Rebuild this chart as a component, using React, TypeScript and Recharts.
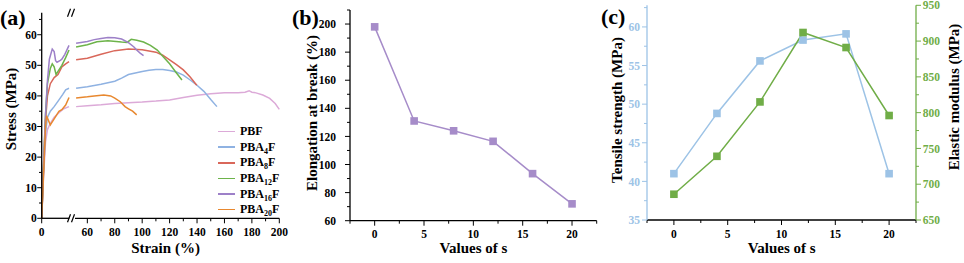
import { Legend, Line, LineChart, XAxis, YAxis } from 'recharts';

const FONT = "'Liberation Serif', 'DejaVu Serif', 'Times New Roman', serif";

// (a) stress-strain curves, [strain %, stress MPa], split at the axis break
const pbfLow = [[0, 0], [2, 14], [4, 25], [6, 29], [9, 31], [13, 33], [18, 34.5], [23, 35.8], [28.5, 36.5]];
const pbfHigh = [[51.8, 36.5], [60, 36.8], [70, 37.1], [80, 37.5], [90, 37.8], [100, 38], [110, 38.3], [120, 38.7], [130, 39.5], [140, 40.2], [150, 40.7], [160, 41], [170, 41], [175, 41.2], [178, 41.7], [180, 41.2], [183, 41], [188, 40.3], [193, 39.2], [197, 37.5], [200, 35.6]];
const pba4Low = [[0, 0], [2, 16], [4, 28], [6, 33], [9, 35], [13, 36.5], [18, 38.7], [22, 40.5], [25, 42], [28.5, 42.5]];
const pba4High = [[51.8, 42.5], [60, 43], [70, 43.8], [80, 44.8], [85, 45.8], [90, 47], [100, 48], [105, 48.4], [110, 48.6], [115, 48.6], [120, 48.3], [125, 47.8], [130, 46.8], [135, 45.2], [140, 43.5], [145, 41.5], [150, 38.8], [154.5, 36.5]];
const pba8Low = [[0, 0], [2, 17], [4, 32], [6, 40], [9, 44], [13, 46], [17, 47], [21, 49.5], [25, 50.5], [28.5, 51.2]];
const pba8High = [[51.8, 51.8], [60, 52.3], [70, 53.6], [80, 54.8], [90, 55.3], [100, 55.1], [110, 54.3], [115, 53.3], [120, 51.8], [125, 50.2], [130, 48.5], [135, 46.2], [139.8, 43.5]];
const pba12Low = [[0, 0], [2, 18], [4, 34], [6, 44], [9, 49], [11, 50.5], [13, 49.5], [15, 47], [17, 48], [21, 50], [25, 52.5], [28.5, 55]];
const pba12High = [[51.8, 56], [60, 56.7], [67, 57.7], [75, 58], [85, 57.6], [89, 57.5], [92, 58.5], [96, 58.2], [101, 57.6], [106, 56.5], [111, 55], [115, 53], [120, 50.5], [125, 47.5], [129, 45.2]];
const pba16Low = [[0, 0], [2, 18], [4, 34], [6, 45], [8, 52], [11, 55.3], [13, 54.5], [14.5, 51.5], [16, 51], [19, 51.5], [21, 52], [24, 53.5], [28.5, 56.5]];
const pba16High = [[51.8, 57.2], [60, 57.8], [65, 58.4], [70, 58.8], [75, 59.1], [80, 59], [85, 58.6], [90, 57.4], [94, 56], [96, 55], [98.5, 54], [101, 53.2]];
const pba20Low = [[0, 0], [2, 15], [4, 30], [5, 33.5], [7, 32], [9, 30.5], [11, 31.5], [14, 33], [18, 35], [21, 35.5], [25, 37], [28.5, 39.5]];
const pba20High = [[51.8, 39.3], [60, 39.7], [65, 40], [72, 40.3], [77, 40], [80, 39.3], [84, 38.1], [87.5, 36.5], [90, 35.8], [93, 35], [96, 33.8]];

const stressTicks = [0, 5, 10, 15, 20, 25, 30, 35, 40, 45, 50, 55, 60, 65];
const strainTicksHigh = [60, 70, 80, 90, 100, 110, 120, 130, 140, 150, 160, 170, 180, 190, 200];

// (b) and (c) vs s
const sValues = [0, 4, 8, 12, 16, 20];
const elongation = [198, 131, 124, 116.5, 93.5, 72];
const tensile = [41, 48.8, 55.6, 58.3, 59.1, 41];
const modulus = [686, 739, 815, 912, 891, 796];

const sTicks = [-2.5, 0, 2.5, 5, 7.5, 10, 12.5, 15, 17.5, 20, 22.5];
const elongTicks = [60, 70, 80, 90, 100, 110, 120, 130, 140, 150, 160, 170, 180, 190, 200, 210];
const tensileTicks = [35, 37.5, 40, 42.5, 45, 47.5, 50, 52.5, 55, 57.5, 60, 62.5];
const modulusTicks = [650, 675, 700, 725, 750, 775, 800, 825, 850, 875, 900, 925, 950];

const toXY = (arr: number[][]) => arr.map(([x, y]) => ({ x, y }));

const stressSeries = [
  { key: 'pbf', sub: '', color: '#dcaad8', low: pbfLow, high: pbfHigh },
  { key: 'pba4', sub: '4', color: '#8fb2e2', low: pba4Low, high: pba4High },
  { key: 'pba8', sub: '8', color: '#d9675a', low: pba8Low, high: pba8High },
  { key: 'pba12', sub: '12', color: '#6db34a', low: pba12Low, high: pba12High },
  { key: 'pba16', sub: '16', color: '#9d80c8', low: pba16Low, high: pba16High },
  { key: 'pba20', sub: '20', color: '#e8882f', low: pba20Low, high: pba20High },
];

const sData = sValues.map((s, i) => ({ s, elong: elongation[i], ts: tensile[i], em: modulus[i] }));

const PURPLE = '#a68cc9';
const BLUE = '#9dc3e6';
const GREEN = '#70ad47';

type TickOpts = {
  side: 'left' | 'right' | 'bottom';
  at: number;
  major: (v: number) => boolean;
  color?: string;
  gap?: number;
  len?: number;
};

const makeTick = ({ side, at, major, color = '#000', gap = 2, len = 5 }: TickOpts) => (p: any) => {
  const v = p.payload.value;
  const big = major(v);
  const l = big ? len : len * 0.6;
  if (side === 'bottom') {
    return (
      <g>
        <line x1={p.x} x2={p.x} y1={at} y2={at + l} stroke={color} strokeWidth={1} />
        {big && (
          <text x={p.x} y={at + 17.5} textAnchor="middle" fill={color} fontFamily={FONT} fontWeight="bold" fontSize={11.5}>
            {v}
          </text>
        )}
      </g>
    );
  }
  const dir = side === 'left' ? -1 : 1;
  return (
    <g>
      <line x1={at} x2={at + dir * l} y1={p.y} y2={p.y} stroke={color} strokeWidth={1} />
      {big && (
        <text x={at + dir * (len + gap)} y={p.y} dy="0.36em" textAnchor={side === 'left' ? 'end' : 'start'} fill={color} fontFamily={FONT} fontWeight="bold" fontSize={11.5}>
          {v}
        </text>
      )}
    </g>
  );
};

const square = (color: string) => (p: any) =>
  p.cx == null ? <g /> : <rect x={p.cx - 3.8} y={p.cy - 3.8} width={7.6} height={7.6} fill={color} />;

const axisLine = (stroke = '#000') => ({ stroke, strokeWidth: 1.3 });

const StressLegend = () => (
  <div style={{ fontFamily: FONT, fontWeight: 'bold', fontSize: 12, color: '#000' }}>
    {stressSeries.map((s) => (
      <div key={s.key} style={{ display: 'flex', alignItems: 'center', height: 15.6 }}>
        <span style={{ display: 'inline-block', width: 17, height: 1.6, background: s.color, marginRight: 5 }} />
        <span style={{ whiteSpace: 'nowrap' }}>
          {s.sub ? (
            <>
              PBA<span style={{ fontSize: 8, position: 'relative', top: 3 }}>{s.sub}</span>F
            </>
          ) : (
            'PBF'
          )}
        </span>
      </div>
    ))}
  </div>
);

const Title = ({ x, y, rotate, size = 15, children }: { x: number; y: number; rotate?: boolean; size?: number; children: string }) => (
  <text
    transform={rotate ? `translate(${x},${y}) rotate(-90)` : undefined}
    x={rotate ? 0 : x}
    y={rotate ? 0 : y}
    dy={rotate ? '0.35em' : undefined}
    textAnchor={rotate ? 'middle' : x < 0 ? 'start' : 'middle'}
    fontFamily={FONT}
    fontWeight="bold"
    fontSize={size}
  >
    {children}
  </text>
);

const BreakMark = ({ y }: { y: number }) => (
  <g stroke="#000" strokeWidth={1.2}>
    <line x1={67.5} y1={y + 4} x2={70.5} y2={y - 4} />
    <line x1={71.5} y1={y + 4} x2={74.5} y2={y - 4} />
  </g>
);

export default function App() {
  const majorStress = (v: number) => v % 10 === 0;
  const majorS = (v: number) => v % 5 === 0;
  return (
    <div style={{ position: 'absolute', left: 0, top: 0, width: 964, height: 263, background: '#fff', overflow: 'hidden', fontFamily: FONT }}>
      {/* (a) left part of the broken strain axis */}
      <div style={{ position: 'absolute', left: 0, top: 0 }}>
        <LineChart width={70} height={263} margin={{ top: 12.7, right: 0.5, bottom: 14.7, left: 0 }}>
          <XAxis xAxisId="b" type="number" dataKey="x" domain={[0, 29]} ticks={[0]} interval={0} height={30} axisLine={axisLine()} tickLine={false} tick={makeTick({ side: 'bottom', at: 218.3, major: () => true })} />
          <XAxis xAxisId="t" orientation="top" type="number" domain={[0, 29]} height={0} tick={false} tickLine={false} axisLine={axisLine()} />
          <YAxis type="number" domain={[0, 67.2]} ticks={stressTicks} interval={0} width={41.7} axisLine={axisLine()} tickLine={false} tick={makeTick({ side: 'left', at: 41.7, major: majorStress, gap: 0.5, len: 4.5 })} />
          {stressSeries.map((s) => (
            <Line key={s.key} xAxisId="b" data={toXY(s.low)} dataKey="y" stroke={s.color} strokeWidth={1.5} dot={false} isAnimationActive={false} />
          ))}
        </LineChart>
      </div>
      {/* (a) right part */}
      <div style={{ position: 'absolute', left: 0, top: 0 }}>
        <LineChart width={290} height={263} margin={{ top: 12.7, right: 10.7, bottom: 14.7, left: 75 }}>
          <XAxis xAxisId="b" type="number" dataKey="x" domain={[51, 200]} ticks={strainTicksHigh} interval={0} height={30} axisLine={axisLine()} tickLine={false} tick={makeTick({ side: 'bottom', at: 218.3, major: (v) => v % 20 === 0 })} />
          <XAxis xAxisId="t" orientation="top" type="number" domain={[51, 200]} height={0} tick={false} tickLine={false} axisLine={axisLine()} />
          <YAxis yAxisId="l" hide type="number" domain={[0, 67.2]} />
          <YAxis yAxisId="r" orientation="right" type="number" domain={[0, 67.2]} width={0} tick={false} tickLine={false} axisLine={axisLine()} />
          {stressSeries.map((s) => (
            <Line key={s.key} xAxisId="b" yAxisId="l" data={toXY(s.high)} dataKey="y" stroke={s.color} strokeWidth={1.5} dot={false} isAnimationActive={false} />
          ))}
          <Legend layout="vertical" align="center" verticalAlign="middle" content={() => <StressLegend />} wrapperStyle={{ left: 218, top: 123.9, width: 70 }} />
        </LineChart>
      </div>

      {/* (b) elongation at break */}
      <div style={{ position: 'absolute', left: 290, top: 0 }}>
        <LineChart width={320} height={263} data={sData} margin={{ top: 10, right: 13.3, bottom: 12.3, left: 20 }}>
          <XAxis xAxisId="b" type="number" dataKey="s" domain={[-2.5, 22.5]} ticks={sTicks} interval={0} height={30} axisLine={axisLine()} tickLine={false} tick={makeTick({ side: 'bottom', at: 220.7, major: majorS })} />
          <XAxis xAxisId="t" orientation="top" type="number" dataKey="s" domain={[-2.5, 22.5]} height={0} tick={false} tickLine={false} axisLine={axisLine()} />
          <YAxis yAxisId="l" type="number" domain={[60, 210]} ticks={elongTicks} interval={0} width={40} axisLine={axisLine()} tickLine={false} tick={makeTick({ side: 'left', at: 60, major: (v) => v % 20 === 0, gap: 9 })} />
          <YAxis yAxisId="r" orientation="right" type="number" domain={[60, 210]} width={0} tick={false} tickLine={false} axisLine={axisLine()} />
          <Line xAxisId="b" yAxisId="l" dataKey="elong" stroke={PURPLE} strokeWidth={1.5} dot={square(PURPLE)} isAnimationActive={false} />
        </LineChart>
      </div>

      {/* (c) tensile strength and elastic modulus */}
      <div style={{ position: 'absolute', left: 600, top: 0 }}>
        <LineChart width={364} height={263} data={sData} margin={{ top: 5.3, right: 8, bottom: 13, left: 7 }}>
          <XAxis xAxisId="b" type="number" dataKey="s" domain={[-2.5, 22.5]} ticks={sTicks} interval={0} height={30} axisLine={axisLine()} tickLine={false} tick={makeTick({ side: 'bottom', at: 220, major: majorS })} />
          <XAxis xAxisId="t" orientation="top" type="number" dataKey="s" domain={[-2.5, 22.5]} height={0} tick={false} tickLine={false} axisLine={axisLine()} />
          <YAxis yAxisId="ts" type="number" domain={[35, 62.8]} ticks={tensileTicks} interval={0} width={40} axisLine={axisLine(BLUE)} tickLine={false} tick={makeTick({ side: 'left', at: 47, major: majorS, color: BLUE, gap: 2 })} />
          <YAxis yAxisId="em" orientation="right" type="number" domain={[650, 950]} ticks={modulusTicks} interval={0} width={40} axisLine={axisLine(GREEN)} tickLine={false} tick={makeTick({ side: 'right', at: 316, major: (v) => v % 50 === 0, color: GREEN, gap: 1.7 })} />
          <Line xAxisId="b" yAxisId="ts" dataKey="ts" stroke={BLUE} strokeWidth={1.5} dot={square(BLUE)} isAnimationActive={false} />
          <Line xAxisId="b" yAxisId="em" dataKey="em" stroke={GREEN} strokeWidth={1.5} dot={square(GREEN)} isAnimationActive={false} />
        </LineChart>
      </div>

      {/* titles, panel letters and axis-break marks */}
      <svg width={964} height={263} style={{ position: 'absolute', left: 0, top: 0, pointerEvents: 'none' }}>
        <rect x={69.6} y={8} width={5.2} height={9} fill="#fff" />
        <rect x={69.6} y={214} width={5.2} height={9} fill="#fff" />
        <BreakMark y={12.7} />
        <BreakMark y={218.3} />
        <text x={0} y={25} fontFamily={FONT} fontWeight="bold" fontSize={22}>(a)</text>
        <text x={292} y={25} fontFamily={FONT} fontWeight="bold" fontSize={22}>(b)</text>
        <text x={601} y={24} fontFamily={FONT} fontWeight="bold" fontSize={22}>(c)</text>
        <Title x={11} y={109} rotate>Stress (MPa)</Title>
        <Title x={165.5} y={253}>Strain (%)</Title>
        <Title x={312} y={113} rotate>Elongation at break (%)</Title>
        <Title x={473.5} y={253}>Values of s</Title>
        <Title x={617} y={110} rotate>Tensile strength (MPa)</Title>
        <Title x={781.7} y={253}>Values of s</Title>
        <Title x={953.5} y={97} rotate>Elastic modulus (MPa)</Title>
      </svg>
    </div>
  );
}
